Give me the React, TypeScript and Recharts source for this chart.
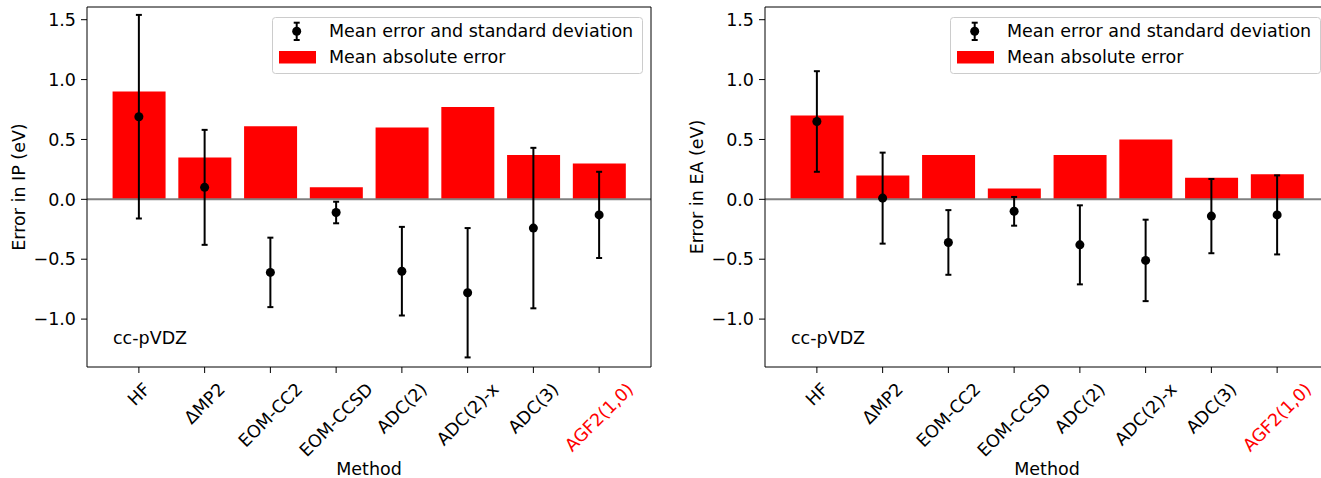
import { ComposedChart, Bar, Scatter, ErrorBar, XAxis, YAxis, ReferenceLine, Legend, Customized } from 'recharts'

const FONT = '"DejaVu Sans", sans-serif'
const FS = 17.5

const methods = ['HF', 'ΔMP2', 'EOM-CC2', 'EOM-CCSD', 'ADC(2)', 'ADC(2)-x', 'ADC(3)', 'AGF2(1,0)']

// ionisation potentials
const ipMae = [0.90, 0.35, 0.61, 0.10, 0.60, 0.77, 0.37, 0.30]
const ipMean = [0.69, 0.10, -0.61, -0.11, -0.60, -0.78, -0.24, -0.13]
const ipStd = [0.85, 0.48, 0.29, 0.09, 0.37, 0.54, 0.67, 0.36]

// electron affinities
const eaMae = [0.70, 0.20, 0.37, 0.09, 0.37, 0.50, 0.18, 0.21]
const eaMean = [0.65, 0.01, -0.36, -0.10, -0.38, -0.51, -0.14, -0.13]
const eaStd = [0.42, 0.38, 0.27, 0.12, 0.33, 0.34, 0.31, 0.33]

const yTicks = [-1.0, -0.5, 0.0, 0.5, 1.0, 1.5]
const yDomain = [-1.4, 1.606]
const highlighted = 'AGF2(1,0)'

let ctx: CanvasRenderingContext2D | null = null
function measure(text: string) {
  if (!ctx) ctx = document.createElement('canvas').getContext('2d')
  if (!ctx) return text.length * FS * 0.62
  ctx.font = `${FS}px "DejaVu Sans"`
  return ctx.measureText(text).width
}

const fmtY = (v: number) => (v < 0 ? '\u2212' : '') + Math.abs(v).toFixed(1)

function MethodTick({ x, y, payload }: any) {
  const label = payload.value as string
  const w = measure(label)
  const h = FS * 1.164
  const cy = y + (w + h) / (2 * Math.SQRT2)
  return (
    <text
      x={x}
      y={cy}
      textAnchor="middle"
      dominantBaseline="central"
      transform={`rotate(-45 ${x} ${cy})`}
      fill={label === highlighted ? '#ff0000' : '#000'}
      fontSize={FS}
      fontFamily={FONT}
    >
      {label}
    </text>
  )
}

function LegendBox() {
  return (
    <svg width={372} height={58} style={{ display: 'block', overflow: 'visible' }}>
      <rect x={0.5} y={0.5} width={370} height={56} rx={3} fill="#fff" fillOpacity={0.8} stroke="#cccccc" />
      <line x1={24.7} y1={5.7} x2={24.7} y2={23} stroke="#000" strokeWidth={2} />
      <line x1={21.7} y1={5.7} x2={27.7} y2={5.7} stroke="#000" strokeWidth={2} />
      <line x1={21.7} y1={23} x2={27.7} y2={23} stroke="#000" strokeWidth={2} />
      <circle cx={24.7} cy={14.3} r={4.5} fill="#000" />
      <rect x={7} y={34} width={37} height={12.5} fill="#ff0000" />
      <text x={57} y={20.4} fontSize={FS} fontFamily={FONT} fill="#000">Mean error and standard deviation</text>
      <text x={57} y={46.4} fontSize={FS} fontFamily={FONT} fill="#000">Mean absolute error</text>
    </svg>
  )
}

interface PanelProps {
  left: number
  width: number
  axisWidth: number
  marginRight: number
  legendLeft: number
  yLabel: string
  mae: number[]
  mean: number[]
  std: number[]
}

function Panel({ left, width, axisWidth, marginRight, legendLeft, yLabel, mae, mean, std }: PanelProps) {
  const data = methods.map((m, i) => ({ method: m, mae: mae[i], mean: mean[i], std: std[i] }))
  const plotLeft = axisWidth

  return (
    <div style={{ position: 'absolute', left, top: 0 }}>
      <ComposedChart
        width={width}
        height={478}
        data={data}
        margin={{ top: 6, right: marginRight, bottom: 0, left: 0 }}
        barCategoryGap="10%"
      >
        <XAxis
          dataKey="method"
          type="category"
          height={111}
          padding={{ left: 19, right: 19 }}
          interval={0}
          tickSize={6}
          tickMargin={6}
          tick={<MethodTick />}
          stroke="#000"
          tickLine={{ stroke: '#000' }}
          label={({ viewBox }: any) => (
            <text
              x={viewBox.x + viewBox.width / 2}
              y={viewBox.y + 108}
              textAnchor="middle"
              fontSize={FS}
              fontFamily={FONT}
              fill="#000"
            >
              Method
            </text>
          )}
        />
        <XAxis
          xAxisId="top"
          dataKey="method"
          type="category"
          orientation="top"
          height={1}
          tick={false}
          tickLine={false}
          stroke="#000"
        />
        <YAxis
          type="number"
          domain={yDomain}
          ticks={yTicks}
          allowDataOverflow
          width={axisWidth}
          tickSize={6}
          tickMargin={5}
          tickFormatter={fmtY}
          tick={{ fill: '#000', fontSize: FS, fontFamily: FONT }}
          stroke="#000"
          tickLine={{ stroke: '#000' }}
          label={({ viewBox }: any) => {
            const lx = viewBox.x + viewBox.width - 68
            const ly = viewBox.y + viewBox.height / 2
            return (
              <text
                x={lx}
                y={ly}
                textAnchor="middle"
                dominantBaseline="central"
                transform={`rotate(-90 ${lx} ${ly})`}
                fontSize={FS}
                fontFamily={FONT}
                fill="#000"
              >
                {yLabel}
              </text>
            )
          }}
        />
        <YAxis
          yAxisId="right"
          type="number"
          domain={yDomain}
          orientation="right"
          width={1}
          tick={false}
          tickLine={false}
          stroke="#000"
        />
        <Bar dataKey="mae" fill="#ff0000" isAnimationActive={false} />
        <ReferenceLine y={0} stroke="#808080" strokeWidth={2} />
        <Scatter dataKey="mean" fill="#000" isAnimationActive={false}>
          <ErrorBar dataKey="std" direction="y" width={3} stroke="#000" strokeWidth={2} />
        </Scatter>
        <Customized
          component={() => (
            <text x={plotLeft + 26} y={344} fontSize={FS} fontFamily={FONT} fill="#000">
              cc-pVDZ
            </text>
          )}
        />
        <Legend
          layout="horizontal"
          verticalAlign="middle"
          align="center"
          content={() => <LegendBox />}
          wrapperStyle={{ top: 17, left: legendLeft, width: 372, height: 58 }}
        />
      </ComposedChart>
    </div>
  )
}

export default function App() {
  return (
    <div
      style={{
        position: 'absolute',
        left: 0,
        top: 0,
        width: 1321,
        height: 478,
        overflow: 'hidden',
        background: '#fff',
      }}
    >
      <Panel
        left={0}
        width={660}
        axisWidth={87}
        marginRight={8}
        legendLeft={272}
        yLabel="Error in IP (eV)"
        mae={ipMae}
        mean={ipMean}
        std={ipStd}
      />
      <Panel
        left={660}
        width={680}
        axisWidth={105}
        marginRight={10}
        legendLeft={290}
        yLabel="Error in EA (eV)"
        mae={eaMae}
        mean={eaMean}
        std={eaStd}
      />
    </div>
  )
}
